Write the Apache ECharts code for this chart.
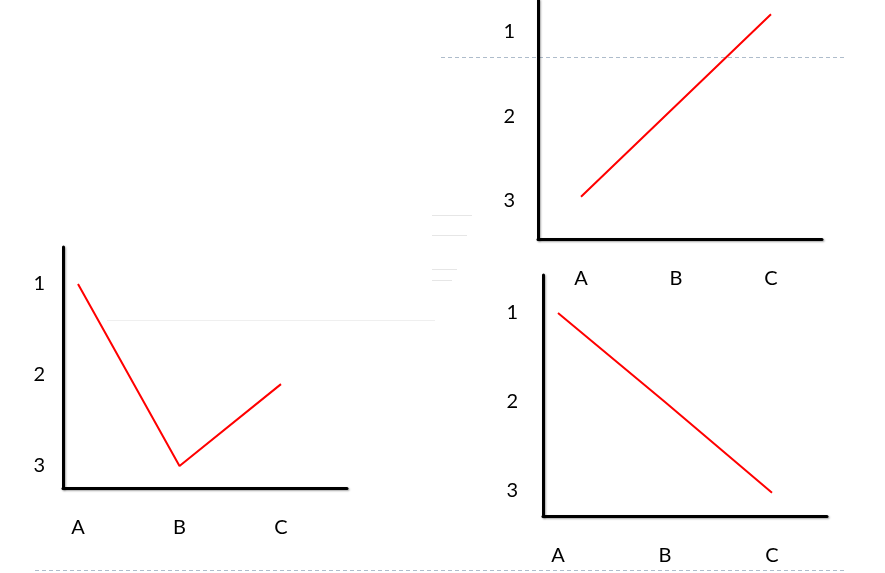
<!DOCTYPE html>
<html>
<head>
<meta charset="utf-8">
<script src="https://cdn.jsdelivr.net/npm/echarts@6/dist/echarts.min.js"></script>
<style>html,body{margin:0;padding:0;background:#fff}#c{width:885px;height:573px}</style>
</head>
<body>
<div id="c"></div>
<script>
// ---- data ----
var categories = ['A', 'B', 'C'];
var yTicks = [1, 2, 3];
var leftValues = [1, 3, 2.1];
var topRightValues = [2.95, 1.87, 0.79];
var bottomRightValues = [1, 2, 3.02];

var chart = echarts.init(document.getElementById('c'), null, {renderer: 'canvas'});
var FONT = 'Lato';
var frameLine = {show: true, lineStyle: {color: '#000', width: 3, shadowColor: 'rgba(0,0,0,0.35)', shadowBlur: 2, shadowOffsetX: 1, shadowOffsetY: 1}};

// chart definitions: frame grid + data grid
var charts = [
  {frame: {left: 63, top: 247, width: 284, height: 241},
   data: {left: 78, top: 284, width: 203, height: 182},
   xMargin: 52, yMargin: 33, values: leftValues},
  {frame: {left: 538, top: -4, width: 284, height: 243},
   data: {left: 581, top: 32, width: 190, height: 169},
   xMargin: 68, yMargin: 66, values: topRightValues},
  {frame: {left: 543, top: 275, width: 284, height: 241},
   data: {left: 558, top: 313, width: 214, height: 178},
   xMargin: 55, yMargin: 40, values: bottomRightValues}
];

var grids = [], xAxes = [], yAxes = [], series = [];
charts.forEach(function (c, i) {
  var fi = grids.length;
  grids.push(c.frame);
  var di = grids.length;
  grids.push(c.data);
  // frame axes
  xAxes.push({gridIndex: fi, type: 'category', data: categories, axisLine: frameLine,
    axisTick: {show: false}, axisLabel: {show: false}, splitLine: {show: false}});
  yAxes.push({gridIndex: fi, type: 'value', axisLine: frameLine, axisTick: {show: false},
    axisLabel: {show: false}, splitLine: {show: false}});
  // data axes
  xAxes.push({gridIndex: di, type: 'category', data: categories, boundaryGap: false,
    axisLine: {show: false}, axisTick: {show: false}, splitLine: {show: false},
    axisLabel: {margin: c.xMargin, color: '#000', fontFamily: FONT, fontSize: 20}});
  yAxes.push({gridIndex: di, type: 'value', inverse: true, min: yTicks[0], max: yTicks[yTicks.length - 1], interval: 1,
    axisLine: {show: false}, axisTick: {show: false}, splitLine: {show: false},
    axisLabel: {margin: c.yMargin, color: '#000', fontFamily: FONT, fontSize: 20}});
  series.push({type: 'line', xAxisIndex: xAxes.length - 1, yAxisIndex: yAxes.length - 1,
    data: c.values, showSymbol: false, symbol: 'none', clip: false,
    lineStyle: {color: '#ff0000', width: 2}});
});

chart.setOption({
  animation: false,
  backgroundColor: '#fff',
  grid: grids,
  xAxis: xAxes,
  yAxis: yAxes,
  series: series,
  graphic: [
    {type: 'line', shape: {x1: 441, y1: 57.5, x2: 845, y2: 57.5}, style: {stroke: '#aebccb', lineWidth: 1, lineDash: [4, 3]}},
    {type: 'line', shape: {x1: 35, y1: 570.5, x2: 845, y2: 570.5}, style: {stroke: '#aebccb', lineWidth: 1, lineDash: [4, 3]}},
    {type: 'line', shape: {x1: 107, y1: 320.5, x2: 435, y2: 320.5}, style: {stroke: '#efefef', lineWidth: 1}},
    {type: 'line', shape: {x1: 432, y1: 215.5, x2: 472, y2: 215.5}, style: {stroke: '#e6e6e6', lineWidth: 1}},
    {type: 'line', shape: {x1: 432, y1: 235.5, x2: 467, y2: 235.5}, style: {stroke: '#e6e6e6', lineWidth: 1}},
    {type: 'line', shape: {x1: 432, y1: 269.5, x2: 457, y2: 269.5}, style: {stroke: '#e6e6e6', lineWidth: 1}},
    {type: 'line', shape: {x1: 432, y1: 280.5, x2: 452, y2: 280.5}, style: {stroke: '#e6e6e6', lineWidth: 1}}
  ]
});
</script>
</body>
</html>
